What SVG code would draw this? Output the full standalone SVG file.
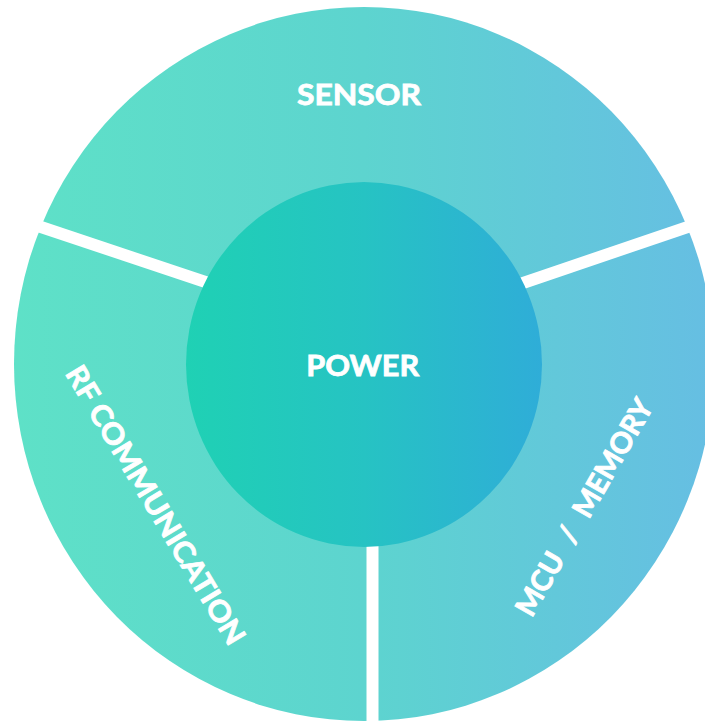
<svg xmlns="http://www.w3.org/2000/svg" width="705" height="724" viewBox="0 0 705 724">
  <defs>
    <linearGradient id="ringFill" gradientUnits="userSpaceOnUse" x1="14" y1="0" x2="714" y2="0">
      <stop offset="0" stop-color="#5EE1C7"/>
      <stop offset="0.5" stop-color="#5DD4CF"/>
      <stop offset="1" stop-color="#66BEE3"/>
    </linearGradient>
    <linearGradient id="coreFill" gradientUnits="userSpaceOnUse" x1="186" y1="0" x2="542" y2="0">
      <stop offset="0" stop-color="#1FD1B4"/>
      <stop offset="0.5" stop-color="#26C3C3"/>
      <stop offset="1" stop-color="#2FADD8"/>
    </linearGradient>
    <clipPath id="ringClip">
      <ellipse cx="364" cy="364" rx="350" ry="357"/>
    </clipPath>
  </defs>
  <style>
    .sector { fill: url(#ringFill); }
    .divider { stroke: #FFFFFF; stroke-width: 12; fill: none; }
    .label { fill: #FFFFFF; stroke: #FFFFFF; stroke-width: 0.8; font-family: Lato, "Open Sans", "Liberation Sans", sans-serif; font-weight: 700; font-size: 29px; text-anchor: middle; }
    .wide { word-spacing: 9px; }
  </style>

  <rect width="705" height="724" fill="#FFFFFF"/>

  <!-- outer ring: three sectors sharing one gradient -->
  <g clip-path="url(#ringClip)">
    <g id="sensor">
      <polygon class="sector" points="367,336 -20,206.5 -20,-20 740,-20 740,209.4"/>
      <text class="label" x="359" y="105" textLength="124" lengthAdjust="spacingAndGlyphs">SENSOR</text>
    </g>
    <g id="rf-communication">
      <polygon class="sector" points="367,336 -20,206.5 -20,760 372,760 372,336"/>
      <text class="label" transform="translate(156,505) rotate(59)" x="0" y="10.5" textLength="320" lengthAdjust="spacingAndGlyphs">RF COMMUNICATION</text>
    </g>
    <g id="mcu-memory">
      <polygon class="sector" points="367,336 740,209.4 740,760 372,760 372,336"/>
      <text class="label wide" transform="translate(584,507) rotate(-60)" x="0" y="10.5">MCU / MEMORY</text>
    </g>
  </g>

  <!-- white gaps between sectors -->
  <g id="dividers">
    <line class="divider" x1="367" y1="336" x2="20" y2="220"/>
    <line class="divider" x1="367" y1="336" x2="720" y2="216"/>
    <line class="divider" x1="372.5" y1="336" x2="372.5" y2="730"/>
  </g>

  <!-- central core -->
  <g id="power">
    <ellipse cx="364" cy="364.5" rx="178" ry="182.5" fill="url(#coreFill)"/>
    <text class="label" x="362.7" y="375.7" textLength="113" lengthAdjust="spacingAndGlyphs">POWER</text>
  </g>
</svg>
